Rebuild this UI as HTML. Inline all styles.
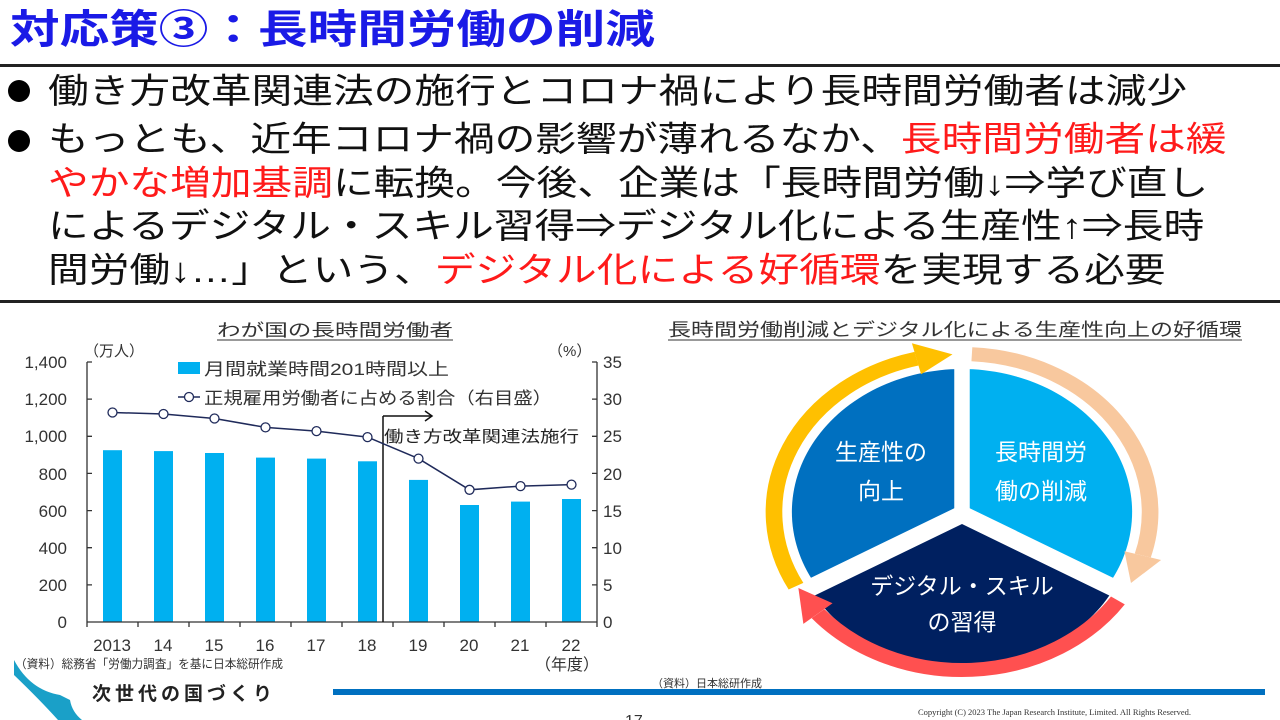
<!DOCTYPE html>
<html><head><meta charset="utf-8"><style>
html,body{margin:0;padding:0;background:#fff;}
body{width:1280px;height:720px;position:relative;overflow:hidden;font-family:"Liberation Sans","Noto Sans CJK JP",sans-serif;}
.abs{position:absolute;white-space:nowrap;}
.sx{transform:scaleX(1.18);transform-origin:0 0;}
.red{color:#ff1a1a;}
</style></head><body>
<div class="abs" style="left:10px;top:6px;font-size:40px;font-weight:bold;color:#1a1ae6;line-height:48px;transform:scaleX(1.24);transform-origin:0 0;">対応策③：長時間労働の削減</div>
<div class="abs" style="left:0;top:64px;width:1280px;height:3px;background:#222;"></div>
<div class="abs" style="left:0;top:300px;width:1280px;height:3px;background:#222;"></div>
<div class="abs" style="left:8px;top:80px;width:22px;height:22px;border-radius:50%;background:#000;"></div>
<div class="abs" style="left:8px;top:130px;width:22px;height:22px;border-radius:50%;background:#000;"></div>
<div class="abs sx" style="left:48px;top:70px;font-size:34.5px;line-height:44px;color:#111;">働き方改革関連法の施行とコロナ禍により長時間労働者は減少</div>
<div class="abs sx" style="left:48px;top:119px;font-size:34.5px;line-height:43.5px;color:#111;">もっとも、近年コロナ禍の影響が薄れるなか、<span class="red">長時間労働者は緩</span><br><span class="red">やかな増加基調</span>に転換。今後、企業は「長時間労働↓⇒学び直し<br>によるデジタル・スキル習得⇒デジタル化による生産性↑⇒長時<br>間労働↓…」という、<span class="red">デジタル化による好循環</span>を実現する必要</div>

<svg class="abs" style="left:0;top:0" width="1280" height="720" viewBox="0 0 1280 720" font-family="Liberation Sans, Noto Sans CJK JP, sans-serif">
<text x="335" y="336" font-size="17" text-anchor="middle" fill="#333" textLength="236" lengthAdjust="spacingAndGlyphs">わが国の長時間労働者</text>
<line x1="217" y1="340" x2="453" y2="340" stroke="#333" stroke-width="1"/>
<g fill="#00b0f0">
<rect x="103" y="450.2" width="19" height="171.8"/>
<rect x="154" y="451.1" width="19" height="170.9"/>
<rect x="205" y="453" width="19" height="169"/>
<rect x="256" y="457.6" width="19" height="164.4"/>
<rect x="307" y="458.6" width="19" height="163.4"/>
<rect x="358" y="461.3" width="19" height="160.7"/>
<rect x="409" y="479.9" width="19" height="142.1"/>
<rect x="460" y="505" width="19" height="117"/>
<rect x="511" y="501.6" width="19" height="120.4"/>
<rect x="562" y="499" width="19" height="123"/>
</g>
<g stroke="#333" stroke-width="1.3" fill="none">
<line x1="87" y1="362" x2="87" y2="622"/>
<line x1="597" y1="362" x2="597" y2="622"/>
<line x1="87" y1="622" x2="597" y2="622"/>
<path d="M87 362h5M87 399.1h5M87 436.3h5M87 473.4h5M87 510.6h5M87 547.7h5M87 584.9h5"/>
<path d="M597 362h-5M597 399.1h-5M597 436.3h-5M597 473.4h-5M597 510.6h-5M597 547.7h-5M597 584.9h-5"/>
<path d="M138 622v5M189 622v5M240 622v5M291 622v5M342 622v5M393 622v5M444 622v5M495 622v5M546 622v5M597 622v5M87 622v5"/>
</g>
<line x1="383" y1="416" x2="383" y2="622" stroke="#111" stroke-width="1.5"/>
<polyline points="383,416 432,416" stroke="#111" stroke-width="1.5" fill="none"/>
<polyline points="425,411 432,416 425,421" stroke="#111" stroke-width="1.5" fill="none"/>
<text x="384" y="442" font-size="16" fill="#222" textLength="195" lengthAdjust="spacingAndGlyphs">働き方改革関連法施行</text>
<polyline points="112.5,412.5 163.5,414 214.5,418.5 265.5,427.4 316.5,431.1 367.5,437.1 418.5,458.6 469.5,489.8 520.5,486.1 571.5,484.6" fill="none" stroke="#1f2a5a" stroke-width="1.5"/>
<g fill="#fff" stroke="#1f2a5a" stroke-width="1.3">
<circle cx="112.5" cy="412.5" r="4.5"/><circle cx="163.5" cy="414" r="4.5"/><circle cx="214.5" cy="418.5" r="4.5"/><circle cx="265.5" cy="427.4" r="4.5"/><circle cx="316.5" cy="431.1" r="4.5"/><circle cx="367.5" cy="437.1" r="4.5"/><circle cx="418.5" cy="458.6" r="4.5"/><circle cx="469.5" cy="489.8" r="4.5"/><circle cx="520.5" cy="486.1" r="4.5"/><circle cx="571.5" cy="484.6" r="4.5"/>
</g>
<g font-size="17" fill="#333" text-anchor="end">
<text x="67" y="368">1,400</text><text x="67" y="405">1,200</text><text x="67" y="442">1,000</text><text x="67" y="480">800</text><text x="67" y="517">600</text><text x="67" y="554">400</text><text x="67" y="591">200</text><text x="67" y="628">0</text>
</g>
<g font-size="17" fill="#333" text-anchor="start">
<text x="603" y="368">35</text><text x="603" y="405">30</text><text x="603" y="442">25</text><text x="603" y="480">20</text><text x="603" y="517">15</text><text x="603" y="554">10</text><text x="603" y="591">5</text><text x="603" y="628">0</text>
</g>
<g font-size="17" fill="#333" text-anchor="middle">
<text x="112" y="651">2013</text><text x="163" y="651">14</text><text x="214" y="651">15</text><text x="265" y="651">16</text><text x="316" y="651">17</text><text x="367" y="651">18</text><text x="418" y="651">19</text><text x="469" y="651">20</text><text x="520" y="651">21</text><text x="571" y="651">22</text>
</g>
<text x="535" y="670" font-size="16" fill="#333">（年度）</text>
<text x="84" y="356" font-size="15" fill="#333">（万人）</text>
<text x="548" y="356" font-size="15" fill="#333">（%）</text>
<rect x="178" y="362" width="22" height="12" fill="#00b0f0"/>
<text x="204" y="375" font-size="17" fill="#333" textLength="245" lengthAdjust="spacingAndGlyphs">月間就業時間201時間以上</text>
<line x1="178" y1="397" x2="200" y2="397" stroke="#1f2a5a" stroke-width="1.5"/>
<circle cx="189" cy="397" r="4.5" fill="#fff" stroke="#1f2a5a" stroke-width="1.3"/>
<text x="204" y="404" font-size="17" fill="#333" textLength="348" lengthAdjust="spacingAndGlyphs">正規雇用労働者に占める割合（右目盛）</text>
<text x="15" y="668" font-size="12" fill="#333" textLength="268" lengthAdjust="spacingAndGlyphs">（資料）総務省「労働力調査」を基に日本総研作成</text>

<text x="955" y="336" font-size="18" text-anchor="middle" fill="#333" textLength="574" lengthAdjust="spacingAndGlyphs">長時間労働削減とデジタル化による生産性向上の好循環</text>
<line x1="668" y1="340" x2="1242" y2="340" stroke="#333" stroke-width="1"/>
<g transform="translate(962,512) scale(1.19,1)">
<path d="M0 0 L-123.8 71.5 A143 143 0 0 1 0 -143 Z" fill="#0070c0"/>
<path d="M0 0 L0 -143 A143 143 0 0 1 123.8 71.5 Z" fill="#00b0f0"/>
<path d="M0 12 L123.8 83.5 A143 143 0 0 1 -123.8 83.5 Z" fill="#002060"/>
<g stroke="#fff" stroke-width="13">
<line x1="0" y1="0" x2="0" y2="-165"/>
<line x1="0" y1="0" x2="142" y2="82"/>
<line x1="0" y1="0" x2="-142" y2="82"/>
</g>
<path d="M-139.5 74.2 A158 158 0 0 1 -38.2 -153.3" fill="none" stroke="#ffc000" stroke-width="14"/>
<polygon points="-34.4,-137.7 -42.1,-168.8 -8,-157.6" fill="#ffc000"/>
<path d="M8.3 -157.8 A158 158 0 0 1 151.9 43.6" fill="none" stroke="#f8c89e" stroke-width="14"/>
<polygon points="136.5,39.2 167.3,48 142,71" fill="#f8c89e"/>
<path d="M131 88.4 A158 158 0 0 1 -121 101.6" fill="none" stroke="#ff5050" stroke-width="14"/>
<polygon points="-108.8,91.3 -133.3,111.9 -137.5,76" fill="#ff5050"/>
</g>
<g font-size="23" fill="#fff" text-anchor="middle">
<text x="881" y="460">生産性の</text><text x="881" y="499">向上</text>
<text x="1041" y="460">長時間労</text><text x="1041" y="499">働の削減</text>
<text x="962" y="594">デジタル・スキル</text><text x="962" y="630">の習得</text>
</g>

<text x="652" y="687" font-size="11" fill="#333">（資料）日本総研作成</text>
<rect x="333" y="689" width="932" height="6" fill="#0070c0"/>
<path d="M14 660 Q30 690 60 695 L70 700 Q72 712 82 720 L58 720 Q40 700 14 675 Z" fill="#1aa0c8"/>
<text x="92" y="700" font-size="19" font-weight="bold" fill="#222" letter-spacing="4">次世代の国づくり</text>
<text x="918" y="715" font-size="8.5" fill="#333" font-family="Liberation Serif, serif">Copyright (C) 2023 The Japan Research Institute, Limited. All Rights Reserved.</text>
<text x="625" y="726" font-size="16" fill="#333">17</text>
</svg>
</body></html>
